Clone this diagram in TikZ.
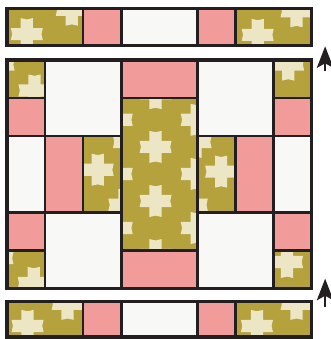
\documentclass[tikz,border=0pt]{standalone}
\usetikzlibrary{arrows.meta}
\definecolor{olivefab}{HTML}{B5A23C}
\definecolor{pinkfab}{HTML}{F29B9B}
\definecolor{whitefab}{HTML}{F8F8F6}
\definecolor{creamstar}{HTML}{ECE6C4}
\definecolor{darkseam}{HTML}{231F20}
% one cross of the olive print, centred at (#1,#2)
\newcommand{\fabcross}[2]{%
  \fill[creamstar,shift={(#1,#2)}] (0.16,0.16) -- (0.42,0.16) -- (0.385,0) -- (0.42,-0.16)
    -- (0.16,-0.16) -- (0.16,-0.42) -- (0,-0.385) -- (-0.16,-0.42) -- (-0.16,-0.16)
    -- (-0.42,-0.16) -- (-0.385,0) -- (-0.42,0.16) -- (-0.16,0.16) -- (-0.16,0.42)
    -- (0,0.385) -- (0.16,0.42) -- cycle;}
% olive patch from #1 to #2 with crosses at the list #3
\newcommand{\olivepatch}[3]{%
  \begin{scope}
    \clip (#1) rectangle (#2);
    \fill[olivefab] (#1) rectangle (#2);
    \foreach \cx/\cy in {#3} {\fabcross{\cx}{\cy}}
  \end{scope}}
\begin{document}
\begin{tikzpicture}[x=1.143cm,y=-1.143cm,
  seamline/.style={draw=darkseam,line width=2.1pt},
  outerline/.style={draw=darkseam,line width=2.6pt},
  arrowline/.style={draw=darkseam,line width=1.2pt,-{Stealth[length=6.5mm,width=5mm,inset=1.4mm]}}]
\useasboundingbox (-0.184,-1.575) rectangle (8.504,7.323);
% top strip
\olivepatch{0,-1.34}{2,-0.37}{0.52/-0.68, 1.7/-1.32}
\fill[pinkfab] (2,-1.34) rectangle (3,-0.37);
\fill[whitefab] (3,-1.34) rectangle (5,-0.37);
\fill[pinkfab] (5,-1.34) rectangle (6,-0.37);
\olivepatch{6,-1.34}{8,-0.37}{6.58/-0.66, 7.6/-1.28}
\foreach \a in {2,3,5,6} \draw[seamline] (\a,-1.34) -- (\a,-0.37);
\draw[outerline] (0,-1.34) rectangle (8,-0.37);
% block
\foreach \a/\b/\c/\d in {1/0/3/2, 5/0/7/2, 0/2/1/4, 7/2/8/4, 1/4/3/6, 5/4/7/6}
  \fill[whitefab] (\a,\b) rectangle (\c,\d);
\foreach \a/\b/\c/\d in {3/0/5/1, 0/1/1/2, 7/1/8/2, 1/2/2/4, 6/2/7/4, 0/4/1/5, 7/4/8/5, 3/5/5/6}
  \fill[pinkfab] (\a,\b) rectangle (\c,\d);
\olivepatch{0,0}{1,1}{0.72/0.8, -0.22/0.12}
\olivepatch{7,0}{8,1}{7.38/0.12}
\olivepatch{0,5}{1,6}{0.7/5.85, -0.25/5.2}
\olivepatch{7,5}{8,6}{7.35/5.3}
\olivepatch{2,2}{3,4}{2.38/2.88, 3.2/2.15, 3.08/3.8}
\olivepatch{5,2}{6,4}{5.62/2.93, 4.95/2.15, 4.85/3.8}
\olivepatch{3,1}{5,5}{3.9/0.87, 3.9/2.28, 3.9/3.7, 3.9/5.12,
  2.88/1.57, 2.88/2.99, 2.88/4.41, 4.98/1.57, 4.98/2.99, 4.98/4.41}
\foreach \a/\b/\c/\d in {0/0/1/1, 7/0/8/1, 0/5/1/6, 7/5/8/6, 2/2/3/4, 5/2/6/4, 3/1/5/5,
  1/0/3/2, 5/0/7/2, 0/2/1/4, 7/2/8/4, 1/4/3/6, 5/4/7/6,
  3/0/5/1, 0/1/1/2, 7/1/8/2, 1/2/2/4, 6/2/7/4, 0/4/1/5, 7/4/8/5, 3/5/5/6}
  \draw[seamline] (\a,\b) rectangle (\c,\d);
\draw[outerline] (0,0) rectangle (8,6);
% bottom strip
\olivepatch{0,6.35}{2,7.27}{0.54/6.98, 1.59/6.4}
\fill[pinkfab] (2,6.35) rectangle (3,7.27);
\fill[whitefab] (3,6.35) rectangle (5,7.27);
\fill[pinkfab] (5,6.35) rectangle (6,7.27);
\olivepatch{6,6.35}{8,7.27}{6.56/6.98, 7.6/6.4}
\foreach \a in {2,3,5,6} \draw[seamline] (\a,6.35) -- (\a,7.27);
\draw[outerline] (0,6.35) rectangle (8,7.27);
% arrows
\coordinate (topTail) at (8.35,0.3);
\coordinate (topTip) at (8.35,-0.36);
\coordinate (bottomTail) at (8.35,6.47);
\coordinate (bottomTip) at (8.35,5.74);
\draw[arrowline] (topTail) -- (topTip);
\draw[arrowline] (bottomTail) -- (bottomTip);
\end{tikzpicture}
\end{document}
